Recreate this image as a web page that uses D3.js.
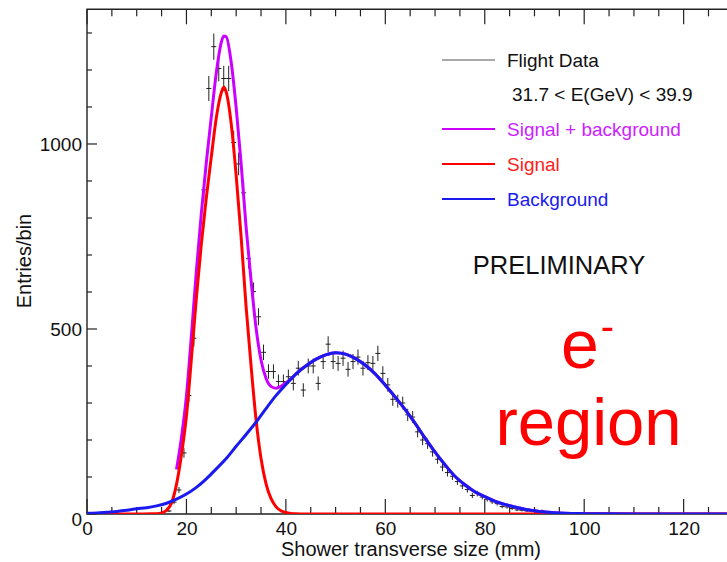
<!DOCTYPE html>
<html><head><meta charset="utf-8">
<script src="https://cdn.jsdelivr.net/npm/d3@7"></script>
<style>
html,body{margin:0;padding:0;background:#fff;}
svg{display:block;font-family:"Liberation Sans",Arial,Helvetica,sans-serif;}
</style></head>
<body>
<svg id="chart" width="727" height="562"></svg>
<script>
// ---- data ----
const binCenters = [16.5,17.5,18.5,19.5,20.5,21.5,22.5,23.5,24.5,25.5,26.5,27.5,28.5,29.5,30.5,31.5,32.5,33.5,34.5,35.5,36.5,37.5,38.5,39.5,40.5,41.5,42.5,43.5,44.5,45.5,46.5,47.5,48.5,49.5,50.5,51.5,52.5,53.5,54.5,55.5,56.5,57.5,58.5,59.5,60.5,61.5,62.5,63.5,64.5,65.5,66.5,67.5,68.5,69.5,70.5,71.5,72.5,73.5,74.5,75.5,76.5,77.5,78.5,79.5,80.5,81.5,82.5,83.5,84.5,85.5,86.5,87.5,88.5,89.5,90.5,91.5,92.5,93.5,94.5,95.5,96.5,97.5];
const binCounts  = [8,32,65,165,320,475,686,876,1150,1263,1204,1177,1177,1004,946,868,690,601,533,437,385,385,358,358,371,353,394,335,400,400,353,412,459,412,407,421,391,412,424,394,409,407,434,380,349,310,305,300,268,262,222,200,190,168,148,127,112,102,88,76,66,50,55,46,40,33,28,20,19,15,11,10,8,7,5,9,4,3,3,2,1,1];

const signalX = [0,10,13,14,15,16,17,18,19,20,21,22,23,24,25,26,27,27.5,28,29,30,31,32,33,34,35,36,37,38,39,40,41,42,44,130];
const signalY = [0,0,0.5,1,3,10,30,80,160,265,420,585,730,855,965,1070,1138,1153,1140,1055,915,748,560,400,255,150,82,42,20,9,4,1.5,0.5,0,0];

const bkgX = [0,2,4,6,8,10,12,14,16,18,20,22,24,26,28,30,32,34,36,38,40,42,44,46,48,50,52,54,56,58,60,62,64,66,68,70,72,74,76,78,80,82,84,86,88,90,92,94,96,98,100,104,110,120,130];
const bkgY = [2,3,5,7,10,14,17,22,29,40,54,72,95,122,150,183,215,248,285,320,350,378,400,418,430,436,432,420,402,378,348,316,282,245,205,167,133,102,79,60,47,35,26,19,13,9,5.5,3.5,2.2,1.4,0.9,0.4,0.1,0,0];

const totalX = [18,19,20,21,22,23,24,25,26,27,27.5,28,29,30,31,32,33,34,35,36,37,38,39,40,41,42,43,44,46,48,50,52,54,56,58,60,62,64,66,68,70,72,74,76,78,80,82,84,86,88,90,92,94,96,98,100,104,110,120,130];
const totalY = [120,207,319,483,657,813,950,1073,1192,1274,1292,1290,1221,1098,947,775,631,503,416,367,345,340,345,354,365,378,390,400,418,430,436,432,420,402,378,348,316,282,245,205,167,133,102,79,60,47,35,26,19,13,9,5.5,3.5,2.2,1.4,0.9,0.4,0.1,0,0];

const xMajorTicks = [0,20,40,60,80,100,120];
const yMajorTicks = [0,500,1000];
const legendLabels = ["Flight Data","31.7 < E(GeV) < 39.9","Signal + background","Signal","Background"];

// ---- layout ----
const svg = d3.select("#chart");
const x = d3.scaleLinear().domain([0,130]).range([87, 87 + 130*4.972]);
const y = d3.scaleLinear().domain([0,1364]).range([514, 9.3]);
const X0 = x(0), Y0 = y(0), YT = y(1364), XR = x(130);

svg.append("defs").append("clipPath").attr("id","plot")
  .append("rect").attr("x",X0).attr("y",YT).attr("width",XR-X0).attr("height",Y0-YT);

// ---- data points with error bars ----
const pts = svg.append("g").attr("clip-path","url(#plot)").attr("stroke","#222").attr("stroke-width",1);
binCenters.forEach((c,i)=>{
  const n = binCounts[i], e = Math.sqrt(n);
  pts.append("line").attr("x1",x(c-0.5)).attr("x2",x(c+0.5)).attr("y1",y(n)).attr("y2",y(n));
  pts.append("line").attr("x1",x(c)).attr("x2",x(c)).attr("y1",y(n+e)).attr("y2",y(Math.max(0,n-e)));
});

// ---- frame & axes ----
const frame = svg.append("g").attr("stroke","#222").attr("stroke-width",1.4).attr("fill","none");
frame.append("path").attr("d",`M${XR},${YT}H${X0}V${Y0}H${XR}`);

const bottomAxis = d3.axisBottom(x).tickValues(xMajorTicks).tickSize(0).tickPadding(8).tickFormat(d3.format("d"));
const gx = svg.append("g").attr("transform",`translate(0,${Y0})`).call(bottomAxis);
gx.select(".domain").remove();
gx.selectAll("text").attr("font-size",19).attr("fill","#111").attr("font-family","Liberation Sans, Arial, sans-serif");

const leftAxis = d3.axisLeft(y).tickValues(yMajorTicks).tickSize(0).tickPadding(5).tickFormat(d3.format("d"));
const gy = svg.append("g").attr("transform",`translate(${X0},0)`).call(leftAxis);
gy.select(".domain").remove();
gy.selectAll("text").attr("font-size",19).attr("fill","#111").attr("font-family","Liberation Sans, Arial, sans-serif");
gy.selectAll(".tick").filter(d=>d===0).select("text").attr("dy","0.62em");

// tick marks
const tk = svg.append("g").attr("stroke","#222").attr("stroke-width",1.2);
d3.range(0,131,5).forEach(v=>{
  const L = (v%20===0) ? 15 : 7;
  tk.append("line").attr("x1",x(v)).attr("x2",x(v)).attr("y1",Y0).attr("y2",Y0-L);
  tk.append("line").attr("x1",x(v)).attr("x2",x(v)).attr("y1",YT).attr("y2",YT+L);
});
d3.range(0,1301,100).forEach(v=>{
  const L = (v%500===0) ? 10 : 5;
  tk.append("line").attr("x1",X0).attr("x2",X0+L).attr("y1",y(v)).attr("y2",y(v));
});

// ---- curves ----
const line = d3.line().x(d=>x(d[0])).y(d=>y(d[1])).curve(d3.curveMonotoneX);
const curves = svg.append("g").attr("clip-path","url(#plot)").attr("fill","none").attr("stroke-width",3).attr("stroke-linejoin","round");
curves.append("path").attr("d",line(d3.zip(totalX,totalY))).attr("stroke","#cc00ff");
curves.append("path").attr("d",line(d3.zip(signalX,signalY))).attr("stroke","#ff0000");
curves.append("path").attr("d",line(d3.zip(bkgX,bkgY))).attr("stroke","#1a1aee");

// ---- axis titles ----
svg.append("text").attr("x",411).attr("y",556).attr("text-anchor","middle")
  .attr("font-size",20).attr("fill","#111").text("Shower transverse size (mm)");
svg.append("text").attr("transform","translate(31,261) rotate(-90)").attr("text-anchor","middle")
  .attr("font-size",20).attr("fill","#111").text("Entries/bin");

// ---- legend ----
const leg = svg.append("g");
const legRows = [
  {y:60, label:legendLabels[0], color:"#555", w:1.2, tc:"#111"},
  {y:129, label:legendLabels[2], color:"#cc00ff", w:2, tc:"#cc22ff"},
  {y:164, label:legendLabels[3], color:"#ff0000", w:2, tc:"#ff2020"},
  {y:199, label:legendLabels[4], color:"#1a1aee", w:2, tc:"#1a1aee"}
];
legRows.forEach(r=>{
  leg.append("line").attr("x1",442).attr("x2",495).attr("y1",r.y).attr("y2",r.y)
    .attr("stroke",r.color).attr("stroke-width",r.w);
  leg.append("text").attr("x",507).attr("y",r.y+6.5).attr("font-size",19).attr("fill",r.tc).text(r.label);
});
leg.append("text").attr("x",512).attr("y",101).attr("font-size",19).attr("fill","#111").text(legendLabels[1]);

svg.append("text").attr("x",559).attr("y",274).attr("text-anchor","middle")
  .attr("font-size",25.5).attr("fill","#111").text("PRELIMINARY");

// ---- e- region ----
const eText = svg.append("text").attr("x",561).attr("y",368).attr("font-size",68).attr("fill","#ff0000");
eText.append("tspan").text("e");
eText.append("tspan").attr("font-size",40).attr("dy",-28).attr("dx",2).text("-");
svg.append("text").attr("x",588.5).attr("y",445).attr("text-anchor","middle")
  .attr("font-size",67).attr("fill","#ff0000").text("region");
</script>
</body></html>
